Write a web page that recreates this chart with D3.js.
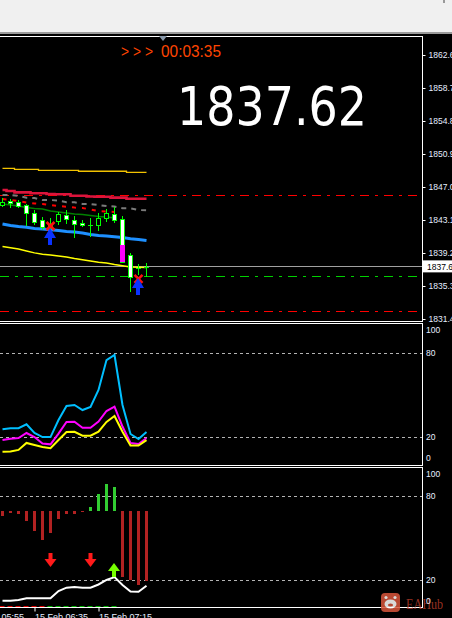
<!DOCTYPE html>
<html><head><meta charset="utf-8">
<script src="https://cdn.jsdelivr.net/npm/d3@7"></script>
<style>html,body{margin:0;padding:0;background:#000;overflow:hidden}svg{display:block}</style>
</head><body>
<svg id="c" width="452" height="618"></svg>
<script>
// ---------- DATA ----------
const times=["06:15","06:20","06:25","06:30","06:35","06:40","06:45","06:50","06:55","07:00","07:05","07:10","07:15","07:20","07:25","07:30","07:35","07:40","07:45"];
const openP =[1844.87,1845.38,1845.26,1844.87,1843.92,1843.10,1842.15,1842.99,1843.66,1843.07,1842.80,1842.56,1842.49,1843.39,1843.78,1843.16,1838.95,1837.37,1837.55];
const highP =[1845.70,1845.58,1845.46,1844.99,1844.28,1843.49,1843.33,1844.03,1844.28,1843.57,1843.10,1843.33,1843.98,1844.40,1844.63,1843.63,1839.23,1837.90,1838.02];
const lowP  =[1844.63,1844.51,1844.51,1842.39,1842.51,1841.92,1841.80,1842.51,1842.62,1841.01,1842.30,1841.09,1841.80,1842.86,1842.71,1838.08,1834.63,1836.60,1836.40];
const closeP=[1845.26,1845.07,1844.79,1843.89,1842.89,1842.23,1842.51,1843.78,1843.19,1842.61,1842.49,1842.56,1843.39,1843.91,1843.05,1838.08,1836.33,1837.37,1837.62];
const highlightBar=[15], highlightTop=[1840.19], highlightBottom=[1838.08];

const goldMA   =[1849.21,1849.21,1849.09,1849.09,1849.09,1848.97,1848.97,1848.97,1848.97,1848.97,1848.86,1848.86,1848.86,1848.86,1848.86,1848.86,1848.74,1848.74,1848.74];
const crimsonMA=[1846.65,1846.53,1846.37,1846.37,1846.26,1846.26,1846.17,1846.14,1846.14,1845.97,1845.97,1845.88,1845.85,1845.85,1845.74,1845.74,1845.62,1845.62,1845.62];
const greyMA   =[1846.06,1846.06,1845.94,1845.74,1845.70,1845.46,1845.46,1845.40,1845.19,1845.19,1844.99,1844.99,1844.87,1844.75,1844.69,1844.48,1844.48,1844.28,1844.24];
const redMA    =[1845.58,1845.46,1845.34,1845.17,1845.05,1844.99,1844.87,1844.75,1844.67,1844.57,1844.52,1844.34,1844.16,1844.11,1844.05];
const greenMA  =[1844.99,1844.87,1844.75,1844.58,1844.46,1844.40,1844.16,1844.05,1843.93,1843.81,1843.75,1843.63,1843.51,1843.45,1843.34];
const blueMA   =[1842.63,1842.45,1842.33,1842.24,1842.10,1842.04,1841.96,1841.86,1841.74,1841.68,1841.56,1841.39,1841.27,1841.21,1841.13,1841.03,1840.89,1840.80,1840.68];
const yellowMA =[1839.97,1839.82,1839.67,1839.44,1839.22,1839.05,1838.96,1838.85,1838.73,1838.55,1838.40,1838.26,1838.11,1838.02,1837.84,1837.69,1837.55,1837.51,1837.49];

const levelPrices=[1846.06,1836.48,1832.35];
const levelColors=["#ff0000","#00d000","#ff0000"];
const currentPrice=1837.62;

const upArrowBars=[6,17], upArrowPrices=[1842.16,1836.25];
const crossBars=[6,17], crossPrices=[1842.39,1836.13];

const priceTicks=[1862.6,1858.7,1854.8,1850.9,1847.0,1843.1,1839.2,1835.3,1831.4];
const priceTickLabels=["1862.60","1858.70","1854.80","1850.90","1847.00","1843.10","1839.20","1835.30","1831.40"];

const stochBlue   =[25.1,25.9,25.9,28.7,22.5,19.6,19.6,31.8,41.8,42.5,38.9,41.1,53.2,74.6,78.2,42.5,21.8,18.2,23.2];
const stochMagenta=[17.5,18.4,18.9,22.5,19.6,15.0,14.4,22.1,30.4,30.6,26.3,26.3,30.6,38.2,41.3,27.1,15.4,14.6,18.9];
const stochYellow =[9.1,9.3,10.4,15.4,13.9,12.5,11.6,17.5,23.2,23.4,20.6,20.6,23.4,30.4,34.6,23.4,13.6,13.5,17.4];

const histBase=69.3;
const histValues=[65.9,67.9,67.4,62.1,55.0,48.6,53.6,63.6,67.1,67.1,68.6,72.1,81.6,88.6,86.4,22.4,20.0,16.4,19.5];
const whiteLine =[5.2,5.2,5.7,6.9,6.9,6.9,6.9,12.1,14.5,15.0,14.5,14.5,16.8,20.0,22.1,16.4,11.8,11.6,15.9];
const downArrowBars=[6,11], downArrowValues=[29.3,29.3];
const limeArrowBars=[14], limeArrowValues=[32.1];

const oscTicks=[100,80,20,0];
const oscLevels=[80,20];
const timeTicks=[-4,4,12];
const timeLabels=["15 Feb 05:55","15 Feb 06:35","15 Feb 07:15"];

// ---------- DRAW ----------
const svg=d3.select("#c");
const W=452,H=618, R=422;
const AX_FONT="Liberation Sans, Arial";
svg.append("rect").attr("width",W).attr("height",H).attr("fill","#000");
svg.append("rect").attr("width",W).attr("height",32).attr("fill","#f0f0f0");
svg.append("rect").attr("y",32).attr("width",W).attr("height",2).attr("fill","#9a9a9a");
svg.append("rect").attr("x",443).attr("y",0).attr("width",2).attr("height",3).attr("fill","#999");

const x=d3.scaleLinear().domain([0,18]).range([2.5,146.5]);
const yP=d3.scaleLinear().domain([1831.4,1862.6]).range([319,55]);
const y2=d3.scaleLinear().domain([0,100]).range([464.5,324.5]);
const y3=d3.scaleLinear().domain([0,100]).range([608,468]);

const defs=svg.append("defs");
defs.append("clipPath").attr("id","cm").append("rect").attr("x",0).attr("y",37).attr("width",R).attr("height",284);
defs.append("clipPath").attr("id","c2").append("rect").attr("x",0).attr("y",324).attr("width",R).attr("height",141);
defs.append("clipPath").attr("id","c3").append("rect").attr("x",0).attr("y",468).attr("width",R).attr("height",139);

// main panel
const gm=svg.append("g").attr("clip-path","url(#cm)");
gm.selectAll(".lvl").data(levelPrices).join("line")
  .attr("x1",0).attr("x2",R).attr("y1",d=>Math.round(yP(d))+0.5).attr("y2",d=>Math.round(yP(d))+0.5)
  .attr("stroke",(d,i)=>levelColors[i]).attr("stroke-width",1).attr("stroke-dasharray","9,6,3,6")
  .attr("shape-rendering","crispEdges");
gm.append("line").attr("x1",0).attr("x2",R).attr("y1",Math.round(yP(currentPrice))+0.5).attr("y2",Math.round(yP(currentPrice))+0.5)
  .attr("stroke","#a0a0a0").attr("stroke-width",1).attr("shape-rendering","crispEdges");

const ln=d3.line().x((d,i)=>x(i)).y(d=>yP(d));
const lnStep=d3.line().x((d,i)=>x(i)).y(d=>yP(d)).curve(d3.curveStep);
gm.append("path").attr("d",lnStep(goldMA)).attr("fill","none").attr("stroke","#f2c200").attr("stroke-width",1.3);
gm.append("path").attr("d",lnStep(crimsonMA)).attr("fill","none").attr("stroke","#dc143c").attr("stroke-width",2.6);
gm.append("path").attr("d",ln(greyMA)).attr("fill","none").attr("stroke","#7a7a7a").attr("stroke-width",2).attr("stroke-dasharray","5,5");
gm.append("path").attr("d",ln(redMA)).attr("fill","none").attr("stroke","#ff0000").attr("stroke-width",2).attr("stroke-dasharray","4,6");
gm.append("path").attr("d",ln(greenMA)).attr("fill","none").attr("stroke","#008000").attr("stroke-width",1.5);
gm.append("path").attr("d",ln(blueMA)).attr("fill","none").attr("stroke","#1e90ff").attr("stroke-width",3);
gm.append("path").attr("d",ln(yellowMA)).attr("fill","none").attr("stroke","#ffff00").attr("stroke-width",1.4);

// candles
const cg=gm.append("g").attr("shape-rendering","crispEdges");
times.forEach((t,i)=>{
  const cx=x(i);
  cg.append("line").attr("x1",cx).attr("x2",cx).attr("y1",yP(highP[i])).attr("y2",yP(lowP[i])).attr("stroke","#00ff00");
  const top=yP(Math.max(openP[i],closeP[i])), bot=yP(Math.min(openP[i],closeP[i]));
  if(bot-top<1.5){
    const yy=Math.round((top+bot)/2)+0.5;
    cg.append("line").attr("x1",cx-2.5).attr("x2",cx+2.5).attr("y1",yy).attr("y2",yy).attr("stroke","#00ff00");
  } else {
    cg.append("rect").attr("x",cx-2).attr("width",4).attr("y",Math.round(top)+0.5).attr("height",Math.round(bot)-Math.round(top))
      .attr("fill",closeP[i]<openP[i]?"#ffffff":"#000000").attr("stroke","#00ff00");
  }
});
highlightBar.forEach((b,k)=>{
  cg.append("rect").attr("x",x(b)-2.5).attr("width",5).attr("y",yP(highlightTop[k])).attr("height",yP(highlightBottom[k])-yP(highlightTop[k])).attr("fill","#ff00ff");
});
// markers
crossBars.forEach((b,k)=>{
  const cx=x(b), cy=yP(crossPrices[k]);
  gm.append("path").attr("d",`M${cx-4},${cy-4}L${cx+4},${cy+4}M${cx+4},${cy-4}L${cx-4},${cy+4}`).attr("stroke","#ff1010").attr("stroke-width",2.5);
});
upArrowBars.forEach((b,k)=>{
  const cx=x(b)-0.5, ty=yP(upArrowPrices[k]);
  gm.append("path").attr("d",`M${cx},${ty}L${cx+6},${ty+10}L${cx+2},${ty+10}L${cx+2},${ty+17}L${cx-2},${ty+17}L${cx-2},${ty+10}L${cx-6},${ty+10}Z`).attr("fill","#0a32ff");
});

// panel 2
const g2=svg.append("g").attr("clip-path","url(#c2)");
g2.selectAll(".l2").data(oscLevels).join("line").attr("x1",0).attr("x2",R)
  .attr("y1",d=>Math.round(y2(d))+0.5).attr("y2",d=>Math.round(y2(d))+0.5)
  .attr("stroke","#b4b4b4").attr("stroke-dasharray","3,3").attr("shape-rendering","crispEdges");
const l2=d3.line().x((d,i)=>x(i)).y(d=>y2(d));
[[stochBlue,"#00bfff"],[stochMagenta,"#ff00ff"],[stochYellow,"#ffff00"]].forEach(([s,c])=>{
  g2.append("path").attr("d",l2(s)).attr("fill","none").attr("stroke",c).attr("stroke-width",2);
});

// panel 3
const g3=svg.append("g").attr("clip-path","url(#c3)");
g3.selectAll(".l3").data(oscLevels).join("line").attr("x1",0).attr("x2",R)
  .attr("y1",d=>Math.round(y3(d))+0.5).attr("y2",d=>Math.round(y3(d))+0.5)
  .attr("stroke","#b4b4b4").attr("stroke-dasharray","3,3").attr("shape-rendering","crispEdges");
g3.append("g").attr("shape-rendering","crispEdges").selectAll("rect").data(histValues).join("rect")
  .attr("x",(d,i)=>x(i)-1.5).attr("width",3)
  .attr("y",d=>Math.round(y3(Math.max(d,histBase)))).attr("height",d=>Math.abs(Math.round(y3(d))-Math.round(y3(histBase))))
  .attr("fill",d=>d>histBase?"#32cd32":"#b22222");
const l3=d3.line().x((d,i)=>x(i)).y(d=>y3(d));
g3.append("path").attr("d",l3(whiteLine)).attr("fill","none").attr("stroke","#ffffff").attr("stroke-width",2);
times.slice(0,15).forEach((t,i)=>{
  g3.append("line").attr("x1",x(i)-3).attr("x2",x(i)+2).attr("y1",606.5).attr("y2",606.5).attr("stroke",i<6?"#e00000":"#00b000");
});
downArrowBars.forEach((b,k)=>{
  const cx=x(b), ty=y3(downArrowValues[k]);
  g3.append("path").attr("d",`M${cx},${ty}L${cx+6},${ty-8}L${cx+2},${ty-8}L${cx+2},${ty-14}L${cx-2},${ty-14}L${cx-2},${ty-8}L${cx-6},${ty-8}Z`).attr("fill","#ff1a1a");
});
limeArrowBars.forEach((b,k)=>{
  const cx=x(b)-0.5, ty=y3(limeArrowValues[k]);
  g3.append("path").attr("d",`M${cx},${ty}L${cx+6},${ty+8}L${cx+2},${ty+8}L${cx+2},${ty+14}L${cx-2},${ty+14}L${cx-2},${ty+8}L${cx-6},${ty+8}Z`).attr("fill","#77ff00");
});

// frames
const fr=svg.append("g").attr("stroke","#fff").attr("stroke-width",1).attr("shape-rendering","crispEdges");
[[36.5,321.5],[323.5,465.5],[467.5,607.5]].forEach(([t,b])=>{
  fr.append("path").attr("d",`M0,${t}H${R+0.5}V${b}H0`).attr("fill","none");
});
svg.append("path").attr("d","M159,36L167,36L163,41Z").attr("fill","#8898aa");

// watermark (under the axis labels)
const wm=svg.append("g").attr("opacity",0.85);
wm.append("rect").attr("x",381).attr("y",593).attr("width",19).attr("height",19).attr("rx",4).attr("fill","#d9553b");
wm.append("ellipse").attr("cx",390.5).attr("cy",604).attr("rx",6).attr("ry",4.5).attr("fill","#fff");
wm.append("circle").attr("cx",386).attr("cy",597.5).attr("r",1.6).attr("fill","#fff");
wm.append("circle").attr("cx",395).attr("cy",597.5).attr("r",1.6).attr("fill","#fff");
wm.append("ellipse").attr("cx",390.5).attr("cy",605).attr("rx",2.6).attr("ry",1.6).attr("fill","#d9553b");
wm.append("text").attr("x",406).attr("y",609).attr("fill","#b03a28").attr("font-family","Liberation Serif").attr("font-size",14)
  .attr("textLength",37).attr("lengthAdjust","spacingAndGlyphs").text("EAHub");

// price axis
const ax=svg.append("g").attr("transform",`translate(${R+0.5},0)`)
  .call(d3.axisRight(yP).tickValues(priceTicks).tickFormat((d,i)=>priceTickLabels[i]).tickSize(3).tickPadding(3));
ax.select(".domain").remove();
ax.selectAll("line").attr("stroke","#fff");
ax.selectAll("text").attr("fill","#e6eeff").attr("font-family",AX_FONT).attr("font-size",8.5);
// current price box
const cpy=yP(currentPrice);
svg.append("rect").attr("x",R+1).attr("y",cpy-6).attr("width",30).attr("height",12).attr("fill","#fff");
svg.append("text").attr("x",R+5).attr("y",cpy+3.5).attr("fill","#000").attr("font-family",AX_FONT).attr("font-size",8.5).text(currentPrice.toFixed(2));

// oscillator axes
function oscAxis(sc,topAdj,botAdj){
  const a=svg.append("g").attr("transform",`translate(${R+0.5},0)`)
    .call(d3.axisRight(sc).tickValues(oscTicks).tickSize(0).tickPadding(3.5));
  a.select(".domain").remove();
  a.selectAll("text").attr("fill","#e6eeff").attr("font-family",AX_FONT).attr("font-size",8.5)
    .attr("transform",d=>d===100?`translate(0,${topAdj})`:d===0?`translate(0,${botAdj})`:null);
}
oscAxis(y2,5.5,-7);
oscAxis(y3,6,-7);

// time axis
const tx=svg.append("g").attr("transform","translate(0,607.5)")
  .call(d3.axisBottom(x).tickValues(timeTicks).tickFormat((d,i)=>timeLabels[i]).tickSize(4));
tx.select(".domain").remove();
tx.selectAll("line").attr("stroke","#fff");
tx.selectAll("text").attr("fill","#e6eeff").attr("font-family",AX_FONT).attr("font-size",9)
  .attr("text-anchor","start").attr("y",12).attr("dy",0);

// texts
svg.append("text").attr("x",121).attr("y",56.5).attr("fill","#ff4500").attr("font-family",AX_FONT).attr("font-size",17)
  .attr("textLength",32).attr("lengthAdjust","spacingAndGlyphs").text("> > >");
svg.append("text").attr("x",161).attr("y",56.5).attr("fill","#ff4500").attr("font-family",AX_FONT).attr("font-size",17)
  .attr("textLength",60).attr("lengthAdjust","spacingAndGlyphs").text("00:03:35");
svg.append("text").attr("x",177).attr("y",124.5).attr("fill","#fff").attr("font-family","DejaVu Sans").attr("font-size",54)
  .attr("textLength",190).attr("lengthAdjust","spacingAndGlyphs").text("1837.62");
</script>
</body></html>
